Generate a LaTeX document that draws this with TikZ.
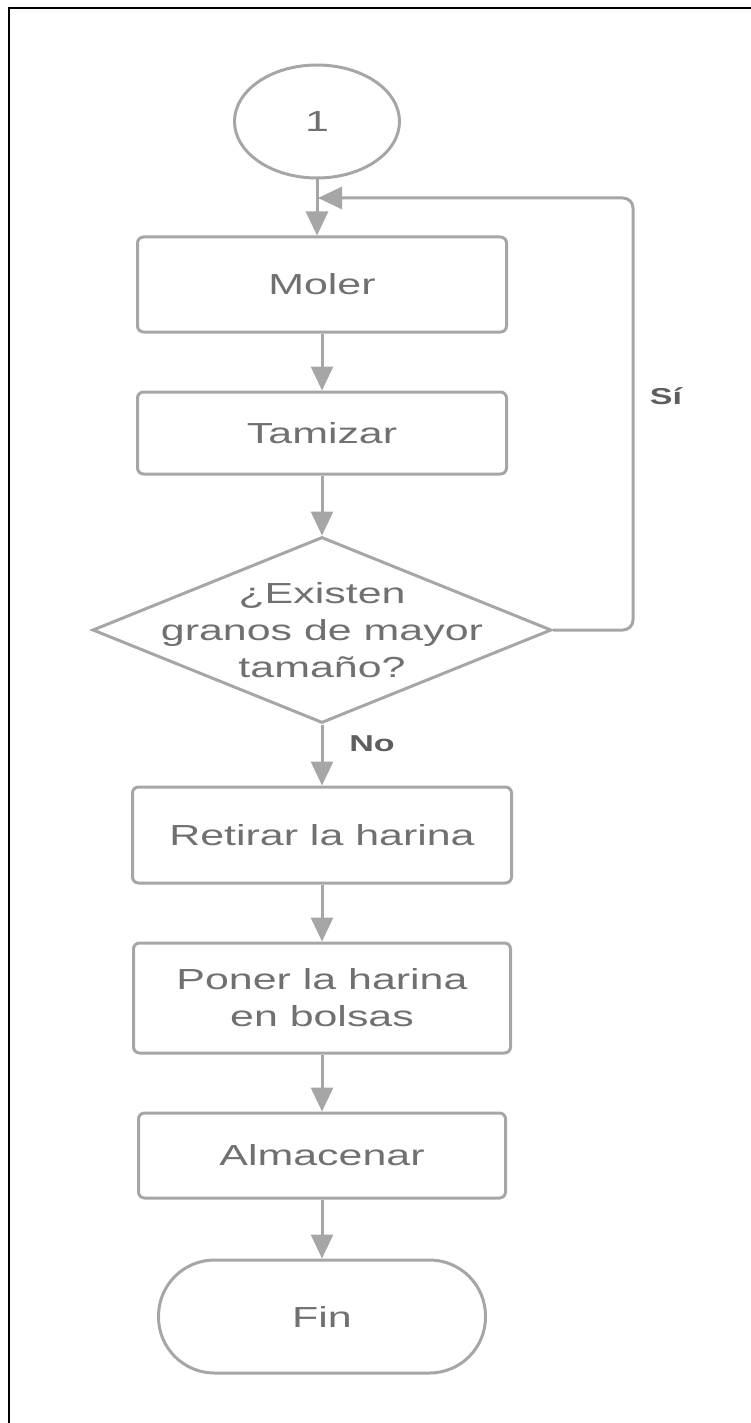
\documentclass[tikz,border=0pt]{standalone}
\usepackage{fontspec}
\setmainfont{Liberation Sans}
\usepackage{graphicx}
\usetikzlibrary{arrows.meta,shapes.geometric}
\definecolor{linegray}{HTML}{A6A6A6}
\definecolor{textgray}{HTML}{707070}
\definecolor{labelgray}{HTML}{5E5E5E}
\newcommand{\wtxt}[1]{\scalebox{1.48}[1]{#1}}

\begin{document}
\begin{tikzpicture}[x=1pt, y=-1pt,
    line width=3pt,
    every node/.style={
    font=\fontsize{29}{37}\selectfont,
    text=textgray,
    inner sep=0pt},
    box/.style={draw=linegray, rounded corners=6pt,
    minimum width=369pt, minimum height=#1},
    flow/.style={draw=linegray, -{Triangle[length=24pt,width=22pt]}},
    yesno/.style={font=\fontsize{23}{28}\selectfont\bfseries, text=labelgray}]

    \useasboundingbox (0,0) rectangle (751,1423);
    \draw[black, line width=2pt] (751,8) -- (9,8) -- (9,1423);

    \node[draw=linegray, ellipse, minimum width=165pt, minimum height=113pt] (start) at (317,121.5) {\wtxt{1}};
    \node[box=95pt] (moler) at (322,284.5) {\wtxt{Moler}};
    \node[box=82pt] (tamizar) at (322,433) {\wtxt{Tamizar}};
    \node[draw=linegray, diamond, minimum width=459pt, minimum height=186pt] (dec) at (322,630) {};
    \node[align=center] (dectxt) at (322,630) {\wtxt{¿Existen}\\\wtxt{granos de mayor}\\\wtxt{tamaño?}};
    \node[box=96pt, minimum width=379pt] (retirar) at (322,835) {\wtxt{Retirar la harina}};
    \node[box=110pt, minimum width=377pt, align=center] (poner) at (322,998) {\wtxt{Poner la harina}\\\wtxt{en bolsas}};
    \node[box=85pt, minimum width=367pt] (almacenar) at (322,1155.5) {\wtxt{Almacenar}};
    \node[draw=linegray, rounded corners=56pt, minimum width=327pt, minimum height=113pt] (fin) at (322,1316.5) {\wtxt{Fin}};

    \coordinate (join) at (318,198);
    \node[yesno] (si) at (666,396) {\wtxt{Sí}};
    \node[yesno] (no) at (372,744) {\wtxt{No}};

    \draw[flow] (start.south) -- (start.south |- moler.north);
    \draw[flow] (moler) -- (tamizar);
    \draw[flow] (tamizar) -- (dec);
    \draw[flow, rounded corners=10pt] (dec.east) -- (633,630) -- (633,198) -- (join);
    \draw[flow] (dec) -- (retirar);
    \draw[flow] (retirar) -- (poner);
    \draw[flow] (poner) -- (almacenar);
    \draw[flow] (almacenar) -- (fin);
\end{tikzpicture}
\end{document}
